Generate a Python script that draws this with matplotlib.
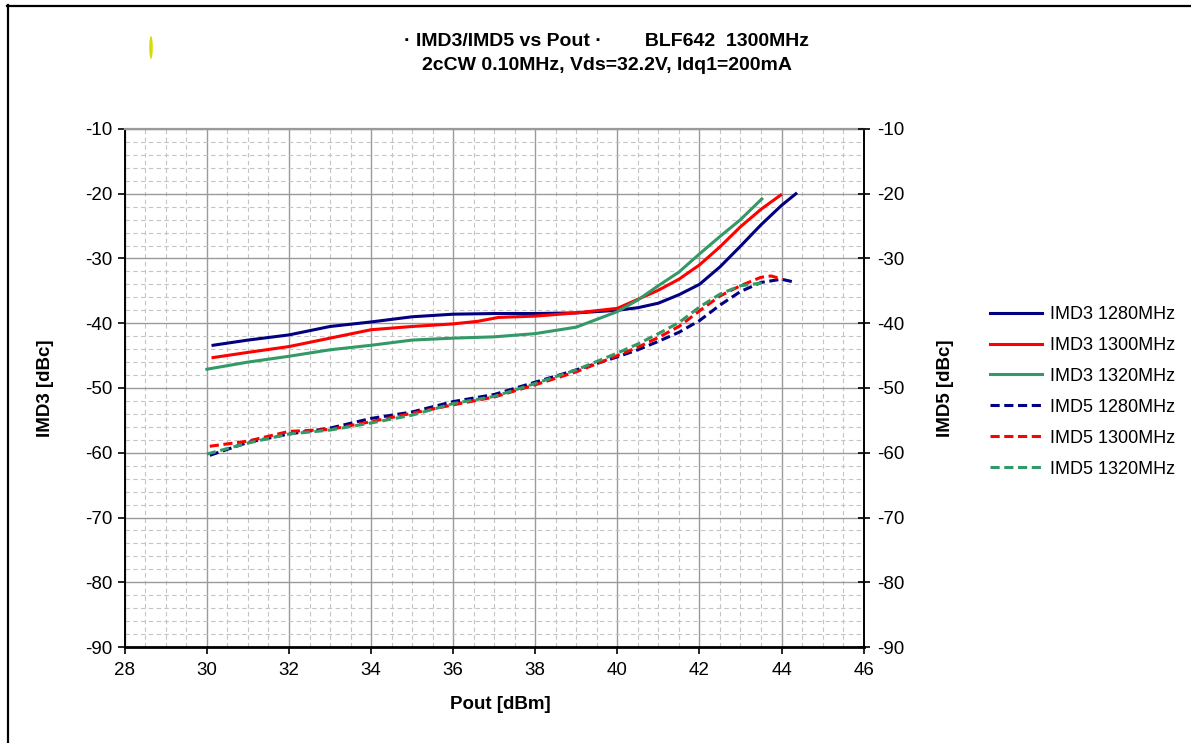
import matplotlib
matplotlib.use("Agg")
import matplotlib.pyplot as plt
from matplotlib.lines import Line2D
from matplotlib.patches import Ellipse
from matplotlib.ticker import MultipleLocator

plt.rcParams['font.family'] = ['Liberation Sans', 'DejaVu Sans']
plt.rcParams['axes.unicode_minus'] = False

# IMD3 curves (Pout [dBm], IMD3 [dBc])
imd3_1280_x = [30.15, 31.0, 32.0, 33.0, 34.0, 35.0, 36.0, 37.0, 38.0, 39.0, 40.0,
               40.5, 41.0, 41.5, 42.0, 42.5, 43.0, 43.5, 44.0, 44.35]
imd3_1280_y = [-43.4, -42.6, -41.8, -40.5, -39.8, -39.0, -38.6, -38.5, -38.5, -38.4, -38.0,
               -37.6, -36.9, -35.6, -34.0, -31.3, -28.1, -24.8, -21.8, -20.0]

imd3_1300_x = [30.15, 31.0, 32.0, 33.0, 34.0, 35.0, 36.0, 36.6, 37.1, 38.0, 39.0, 40.0,
               40.5, 41.0, 41.5, 42.0, 42.5, 43.0, 43.5, 43.98]
imd3_1300_y = [-45.3, -44.5, -43.6, -42.3, -41.0, -40.5, -40.1, -39.7, -39.1, -38.9, -38.4, -37.7,
               -36.3, -34.9, -33.2, -31.0, -28.2, -25.1, -22.4, -20.2]

imd3_1320_x = [30.0, 31.0, 32.0, 33.0, 34.0, 35.0, 36.0, 37.0, 38.0, 39.0, 40.0,
               40.5, 41.0, 41.5, 42.0, 42.5, 43.0, 43.52]
imd3_1320_y = [-47.1, -46.0, -45.1, -44.1, -43.4, -42.6, -42.3, -42.1, -41.6, -40.6, -38.2,
               -36.4, -34.2, -32.1, -29.3, -26.6, -24.0, -20.8]

# IMD5 curves (Pout [dBm], IMD5 [dBc])
imd5_1280_x = [30.07, 31.0, 32.0, 33.0, 34.0, 35.0, 36.0, 37.0, 38.0, 39.0, 40.0,
               40.5, 41.0, 41.5, 42.0, 42.5, 43.0, 43.5, 44.0, 44.35]
imd5_1280_y = [-60.4, -58.4, -57.1, -56.2, -54.7, -53.7, -52.1, -51.0, -49.1, -47.2, -45.2,
               -44.1, -42.8, -41.4, -39.6, -37.2, -35.1, -33.7, -33.2, -33.7]

imd5_1300_x = [30.07, 31.0, 32.0, 33.0, 34.0, 35.0, 36.0, 37.0, 38.0, 39.0, 40.0,
               40.5, 41.0, 41.5, 42.0, 42.5, 43.0, 43.5, 43.75, 44.02]
imd5_1300_y = [-59.0, -58.2, -56.7, -56.4, -55.2, -53.9, -52.6, -51.4, -49.5, -47.5, -45.0,
               -43.7, -42.2, -40.5, -38.1, -35.8, -34.2, -32.9, -32.7, -33.2]

imd5_1320_x = [30.0, 31.0, 32.0, 33.0, 34.0, 35.0, 36.0, 37.0, 38.0, 39.0, 40.0,
               40.5, 41.0, 41.5, 42.0, 42.5, 43.0, 43.52]
imd5_1320_y = [-60.2, -58.5, -57.1, -56.5, -55.4, -54.2, -52.4, -51.3, -49.3, -47.2, -44.6,
               -43.2, -41.6, -39.9, -37.5, -35.5, -34.2, -33.8]

series = [
    ("IMD3 1280MHz", imd3_1280_x, imd3_1280_y, "#000080", "-"),
    ("IMD3 1300MHz", imd3_1300_x, imd3_1300_y, "#FF0000", "-"),
    ("IMD3 1320MHz", imd3_1320_x, imd3_1320_y, "#339966", "-"),
    ("IMD5 1280MHz", imd5_1280_x, imd5_1280_y, "#000080", "--"),
    ("IMD5 1300MHz", imd5_1300_x, imd5_1300_y, "#FF0000", "--"),
    ("IMD5 1320MHz", imd5_1320_x, imd5_1320_y, "#339966", "--"),
]

W, H = 1191, 743
fig = plt.figure(figsize=(W / 100, H / 100), dpi=100)
fig.patch.set_facecolor("white")

# plot area in pixels
L, R, T, B = 124.8, 863.6, 129.0, 647.0
ax = fig.add_axes([L / W, (H - B) / H, (R - L) / W, (B - T) / H])

ax.set_xlim(28, 46)
ax.set_ylim(-90, -10)
ax.xaxis.set_major_locator(MultipleLocator(2))
ax.xaxis.set_minor_locator(MultipleLocator(0.5))
ax.yaxis.set_major_locator(MultipleLocator(10))
ax.yaxis.set_minor_locator(MultipleLocator(2))

ax.grid(which="minor", color="#c4c4c4", linestyle=(0, (4, 3)), linewidth=0.8)
ax.grid(which="major", color="#9a9a9a", linestyle="-", linewidth=1.0)
ax.set_axisbelow(True)

handles = []
for label, xs, ys, color, ls in series:
    if ls == "--":
        h, = ax.plot(xs, ys, color=color, linewidth=2.2, linestyle=(0, (3.0, 1.5)),
                     label=label, dash_capstyle="butt", dash_joinstyle="round")
    else:
        h, = ax.plot(xs, ys, color=color, linewidth=2.2, linestyle="-", label=label,
                     solid_joinstyle="round")
    handles.append(h)

for side in ("left", "right", "bottom"):
    ax.spines[side].set_color("black")
    ax.spines[side].set_linewidth(1.4)
ax.spines["bottom"].set_linewidth(2.0)
ax.spines["top"].set_color("#9a9a9a")
ax.spines["top"].set_linewidth(1.6)

TICK_FS = 13.5
ax.tick_params(axis="both", which="minor", length=0)
ax.tick_params(axis="y", which="major", direction="out", length=5, width=1.2,
               labelsize=TICK_FS, pad=4)
ax.tick_params(axis="x", which="major", direction="out", length=5, width=1.2,
               labelsize=TICK_FS, pad=6)

ax2 = ax.twinx()
ax2.set_ylim(-90, -10)
ax2.yaxis.set_major_locator(MultipleLocator(10))
ax2.tick_params(axis="y", which="major", direction="inout", length=9, width=1.2,
                labelsize=TICK_FS, pad=5)
for s in ax2.spines.values():
    s.set_visible(False)

LABEL_FS = 13.5
ax.set_xlabel("Pout [dBm]", fontsize=LABEL_FS, fontweight="bold")
ax.set_ylabel("IMD3 [dBc]", fontsize=LABEL_FS, fontweight="bold")
ax2.set_ylabel("IMD5 [dBc]", fontsize=LABEL_FS, fontweight="bold")
ax.xaxis.set_label_coords((500 - L) / (R - L), (B - 696) / (B - T))
ax.yaxis.set_label_coords((54 - L) / (R - L), 0.5)
ax2.yaxis.set_label_coords((937 - L) / (R - L), 0.5)

TITLE_FS = 14
fig.text(606 / W, (H - 42) / H, "\u00b7 IMD3/IMD5 vs Pout \u00b7        BLF642  1300MHz",
         ha="center", va="center", fontsize=TITLE_FS, fontweight="bold")
fig.text(607 / W, (H - 66) / H, "2cCW 0.10MHz, Vds=32.2V, Idq1=200mA",
         ha="center", va="center", fontsize=TITLE_FS, fontweight="bold")

fig.legend(handles=handles, loc="upper left", bbox_to_anchor=(990 / W, (H - 306) / H),
           frameon=False, fontsize=13, handlelength=2.9, handletextpad=0.45,
           labelspacing=0.77, borderpad=0, borderaxespad=0)

# outer chart frame
fig.add_artist(Line2D([7 / W, 1.0], [(H - 5.5) / H, (H - 5.5) / H],
                      transform=fig.transFigure, color="black", linewidth=1.6))
fig.add_artist(Line2D([7.5 / W, 7.5 / W], [0.0, (H - 5) / H],
                      transform=fig.transFigure, color="black", linewidth=1.6))

# small yellow mark near the top left
fig.add_artist(Ellipse((151 / W, (H - 47.5) / H), 3.5 / W, 23 / H,
                       transform=fig.transFigure, color="#d6dc00", lw=0))

fig.savefig("out.png", dpi=100, facecolor="white")
